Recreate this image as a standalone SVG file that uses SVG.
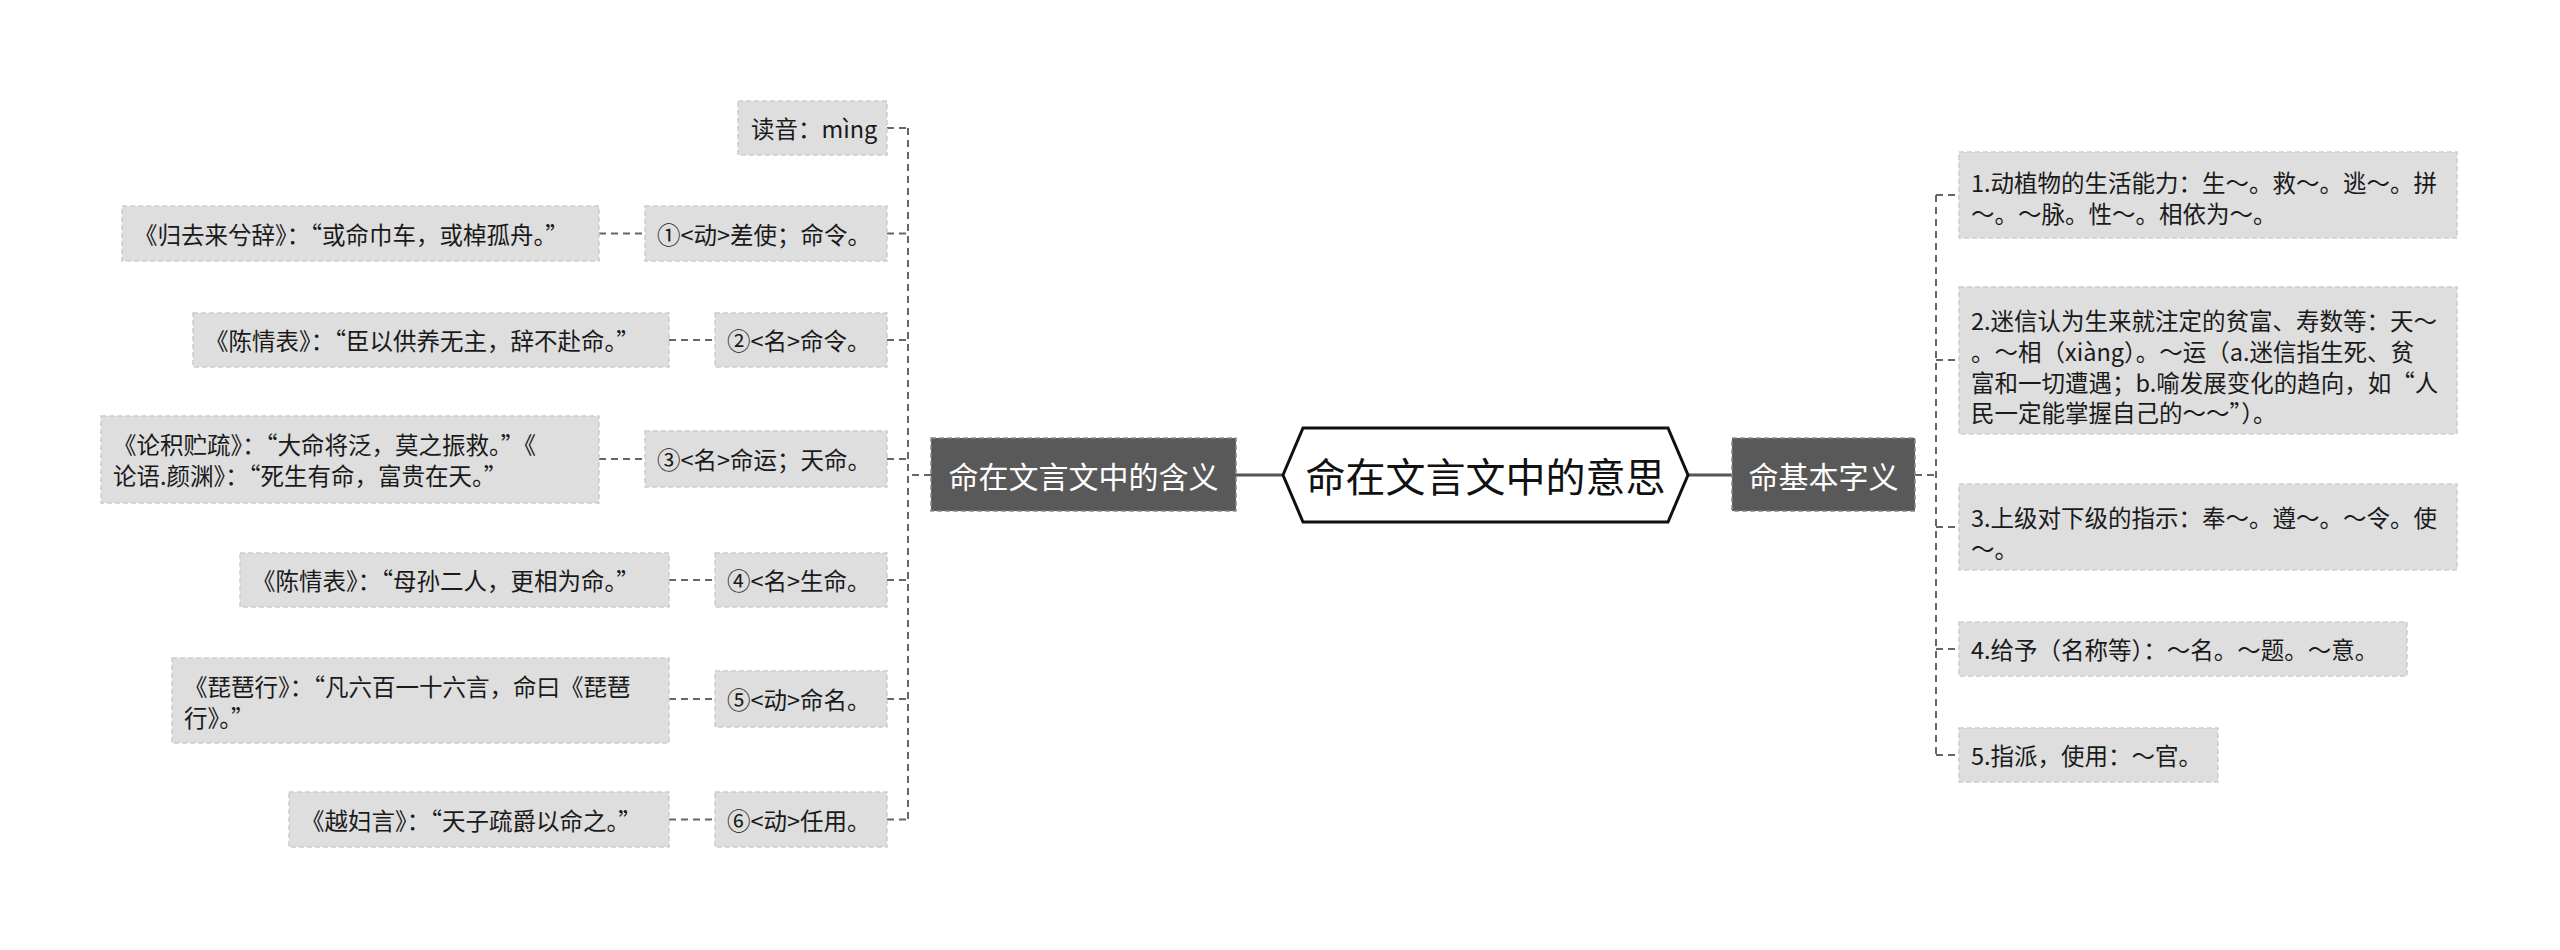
<svg xmlns="http://www.w3.org/2000/svg" width="2560" height="950" viewBox="0 0 2560 950">
<style>
text{font-family:"Noto Sans CJK SC","Noto Sans",sans-serif;dominant-baseline:central}
.leaf rect{fill:#dedede;stroke:#cdcdcd;stroke-width:1.5;stroke-dasharray:5 3}
.leaf text{font-size:23.5px;fill:#1a1a1a}
.main rect{fill:#595959;stroke:#8a8a8a;stroke-width:1.5;stroke-dasharray:5 3}
.main text{font-size:30px;fill:#fff;text-anchor:middle}
.root polygon{fill:#fff;stroke:#111;stroke-width:3}
.root text{font-size:40px;fill:#111;text-anchor:middle}
.solid{stroke:#555;stroke-width:3;fill:none}
.dash{stroke:#666;stroke-width:2;stroke-dasharray:7 5;fill:none}
</style>
<rect width="2560" height="950" fill="#fff"/>
<g id="connectors">
<line class="solid" x1="1236" y1="475" x2="1283" y2="475"/>
<line class="solid" x1="1688" y1="475" x2="1732" y2="475"/>
<line class="dash" x1="931" y1="475" x2="908" y2="475"/>
<line class="dash" x1="908" y1="128" x2="908" y2="820"/>
<line class="dash" x1="887" y1="128" x2="908" y2="128"/>
<line class="dash" x1="887" y1="233.5" x2="908" y2="233.5"/>
<line class="dash" x1="887" y1="340" x2="908" y2="340"/>
<line class="dash" x1="887" y1="459" x2="908" y2="459"/>
<line class="dash" x1="887" y1="580" x2="908" y2="580"/>
<line class="dash" x1="887" y1="699" x2="908" y2="699"/>
<line class="dash" x1="887" y1="819.5" x2="908" y2="819.5"/>
<line class="dash" x1="599" y1="233.5" x2="645" y2="233.5"/>
<line class="dash" x1="669" y1="340" x2="715" y2="340"/>
<line class="dash" x1="599" y1="459" x2="645" y2="459"/>
<line class="dash" x1="669" y1="580" x2="715" y2="580"/>
<line class="dash" x1="669" y1="699" x2="715" y2="699"/>
<line class="dash" x1="669" y1="819.5" x2="715" y2="819.5"/>
<line class="dash" x1="1915" y1="475" x2="1936" y2="475"/>
<line class="dash" x1="1936" y1="195" x2="1936" y2="755"/>
<line class="dash" x1="1936" y1="195" x2="1959" y2="195"/>
<line class="dash" x1="1936" y1="360" x2="1959" y2="360"/>
<line class="dash" x1="1936" y1="527" x2="1959" y2="527"/>
<line class="dash" x1="1936" y1="649" x2="1959" y2="649"/>
<line class="dash" x1="1936" y1="755" x2="1959" y2="755"/>
</g>
<g id="root" class="root">
<polygon points="1283,475 1303,428 1668,428 1688,475 1668,522 1303,522"/>
<text x="1485.5" y="475">命在文言文中的意思</text>
</g>
<g id="branch-left" class="main">
<rect x="931" y="438" width="305" height="73"/>
<text x="1083.5" y="475">命在文言文中的含义</text>
</g>
<g id="branch-right" class="main">
<rect x="1732" y="438" width="183" height="73"/>
<text x="1823.5" y="475">命基本字义</text>
</g>
<g id="l-read" class="leaf"><rect x="738" y="101" width="149" height="54"/><text x="751" y="128">读音：mìng</text></g>
<g id="l-1" class="leaf"><rect x="645" y="206" width="242" height="55"/><text x="657" y="233.5">①&lt;动&gt;差使；命令。</text></g>
<g id="l-2" class="leaf"><rect x="715" y="313" width="172" height="54"/><text x="727" y="340">②&lt;名&gt;命令。</text></g>
<g id="l-3" class="leaf"><rect x="645" y="431" width="242" height="56"/><text x="657" y="459">③&lt;名&gt;命运；天命。</text></g>
<g id="l-4" class="leaf"><rect x="715" y="553" width="172" height="54"/><text x="727" y="580">④&lt;名&gt;生命。</text></g>
<g id="l-5" class="leaf"><rect x="715" y="671" width="172" height="56"/><text x="727" y="699">⑤&lt;动&gt;命名。</text></g>
<g id="l-6" class="leaf"><rect x="715" y="792" width="172" height="55"/><text x="727" y="819.5">⑥&lt;动&gt;任用。</text></g>
<g id="g-1" class="leaf"><rect x="122" y="206" width="477" height="55"/><text x="134" y="233.5">《归去来兮辞》：“或命巾车，或棹孤舟。”</text></g>
<g id="g-2" class="leaf"><rect x="193" y="313" width="476" height="54"/><text x="205" y="340">《陈情表》：“臣以供养无主，辞不赴命。”</text></g>
<g id="g-3" class="leaf"><rect x="101" y="416" width="498" height="87"/><text x="113" y="444">《论积贮疏》：“大命将泛，莫之振救。”《</text><text x="113" y="475">论语.颜渊》：“死生有命，富贵在天。”</text></g>
<g id="g-4" class="leaf"><rect x="240" y="553" width="429" height="54"/><text x="252" y="580">《陈情表》：“母孙二人，更相为命。”</text></g>
<g id="g-5" class="leaf"><rect x="172" y="658" width="497" height="85"/><text x="184" y="686">《琵琶行》：“凡六百一十六言，命曰《琵琶</text><text x="184" y="717">行》。”</text></g>
<g id="g-6" class="leaf"><rect x="289" y="792" width="380" height="55"/><text x="301" y="819.5">《越妇言》：“天子疏爵以命之。”</text></g>
<g id="r-1" class="leaf"><rect x="1959" y="152" width="498" height="86"/><text x="1971" y="182">1.动植物的生活能力：生～。救～。逃～。拼</text><text x="1971" y="213">～。～脉。性～。相依为～。</text></g>
<g id="r-2" class="leaf"><rect x="1959" y="287" width="498" height="147"/><text x="1971" y="320">2.迷信认为生来就注定的贫富、寿数等：天～</text><text x="1971" y="351">。～相（xiàng）。～运（a.迷信指生死、贫</text><text x="1971" y="382">富和一切遭遇；b.喻发展变化的趋向，如“人</text><text x="1971" y="412">民一定能掌握自己的～～”）。</text></g>
<g id="r-3" class="leaf"><rect x="1959" y="484" width="498" height="86"/><text x="1971" y="517">3.上级对下级的指示：奉～。遵～。～令。使</text><text x="1971" y="548">～。</text></g>
<g id="r-4" class="leaf"><rect x="1959" y="622" width="448" height="54"/><text x="1971" y="649">4.给予（名称等）：～名。～题。～意。</text></g>
<g id="r-5" class="leaf"><rect x="1959" y="728" width="259" height="54"/><text x="1971" y="755">5.指派，使用：～官。</text></g>
</svg>
